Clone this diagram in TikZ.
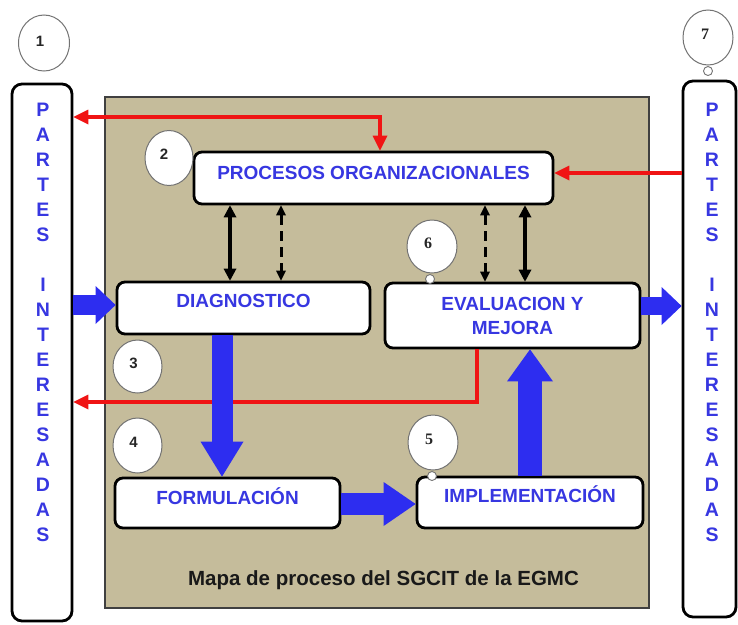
\documentclass[tikz,border=0pt]{standalone}
\usepackage{fontspec}
\setmainfont{Liberation Sans}
\newfontfamily\digserif{Liberation Serif}
\usetikzlibrary{arrows.meta,shapes.geometric,calc}
\definecolor{bgtan}{RGB}{197,188,155}
\definecolor{arblue}{RGB}{45,45,240}
\definecolor{txblue}{RGB}{55,55,225}
\definecolor{arred}{RGB}{240,20,20}
\newcommand\rtext[2]{\raisebox{#1}[0pt][0pt]{#2}}
\begin{document}
\begin{tikzpicture}[x=1pt,y=-1pt,
 pbox/.style={draw=black, line width=2.8pt, rounded corners=8pt, fill=white, inner sep=0pt,
   font=\fontsize{19}{24}\selectfont\bfseries, text=txblue, align=center},
 partbox/.style={draw=black, line width=2.8pt, rounded corners=10pt, fill=white, inner sep=0pt},
 partletter/.style={font=\fontsize{19.5}{22}\selectfont\bfseries, text=txblue, inner sep=0pt},
 numcirc/.style={ellipse, draw=black!55, line width=1pt, fill=white, minimum width=50pt, minimum height=55pt, inner sep=0pt},
 tinycirc/.style={circle, draw=black!55, line width=0.9pt, fill=white, minimum size=9pt, inner sep=0pt},
 digit/.style={font=\fontsize{15}{15}\selectfont\bfseries, text=black!85, inner sep=0pt},
 sdigit/.style={font=\fontsize{16}{16}\selectfont\digserif\bfseries, text=black!85, inner sep=0pt},
 solidarr/.style={draw=black, line width=3.6pt,
   {Triangle[length=12pt 0 0,width=13pt 0 0,line width=0pt 0 0]}-{Triangle[length=12pt 0 0,width=13pt 0 0,line width=0pt 0 0]}},
 dasharr/.style={draw=black, line width=3pt, dash pattern=on 10pt off 6pt,
   {Triangle[length=10pt 0 0,width=10pt 0 0,line width=0pt 0 0]}-{Triangle[length=10pt 0 0,width=10pt 0 0,line width=0pt 0 0]}},
 redline/.style={draw=arred, line width=3.5pt},
 bluearr/.style={draw=arblue, line width=#1},
 captionstyle/.style={font=\fontsize{20.5}{24}\selectfont\bfseries, text=black!90, inner sep=0pt}
]
\useasboundingbox (0,0) rectangle (738,624);

% background panel
\draw[fill=bgtan, draw=black!75, line width=1.5pt] (105,97) rectangle (649,608);

% stakeholder columns
\node[partbox, minimum width=60pt, minimum height=537pt] (lpart) at (42,352.5) {};
\node[partbox, minimum width=53pt, minimum height=536pt] (rpart) at (709.5,349) {};
\foreach \l/\yy [count=\i] in {P/110,A/135,R/160,T/185,E/210,S/235,I/285,N/310,T/335,E/360,R/385,E/410,S/435,A/460,D/485,A/510,S/535}{
  \node[partletter] (lp\i) at (43,\yy) {\l};
  \node[partletter] (rp\i) at (712,\yy) {\l};
}

% process boxes
\node[pbox, minimum width=359pt, minimum height=52pt] (proc) at (373.5,178) {\rtext{-1.8pt}{PROCESOS ORGANIZACIONALES}};
\node[pbox, minimum width=253pt, minimum height=52pt] (diag) at (243.5,308) {\rtext{0.2pt}{DIAGNOSTICO}};
\node[pbox, minimum width=255pt, minimum height=65pt] (eval) at (512.5,315.5) {EVALUACION Y\\MEJORA};
\node[pbox, minimum width=225pt, minimum height=50pt] (form) at (227.5,503) {\rtext{-1.8pt}{FORMULACIÓN}};
\node[pbox, minimum width=226pt, minimum height=51pt] (impl) at (530,502.5) {\rtext{-0.3pt}{IMPLEMENTACIÓN}};

% red feedback lines
\coordinate (rt) at (380,117);
\draw[redline, {Triangle[length=15pt 0 0,width=15pt 0 0,line width=0pt 0 0]}-{Triangle[length=15pt 0 0,width=15pt 0 0,line width=0pt 0 0]}]
  (rt -| lpart.east) -- (rt) -- (rt |- proc.north);
\coordinate (rr) at (0,173);
\draw[redline, -{Triangle[length=15pt 0 0,width=15pt 0 0,line width=0pt 0 0]}]
  (rr -| rpart.west) -- (rr -| proc.east);
\coordinate (rb) at (477,402);
\draw[redline, -{Triangle[length=15pt 0 0,width=15pt 0 0,line width=0pt 0 0]}]
  (rb |- eval.south) -- (rb) -- (rb -| lpart.east);

% black two-way arrows
\coordinate (k1) at (230,0);
\coordinate (k2) at (281,0);
\coordinate (k3) at (485,0);
\coordinate (k4) at (525,0);
\draw[solidarr] (k1 |- proc.south) -- (k1 |- diag.north);
\draw[dasharr] (k2 |- proc.south) -- (k2 |- diag.north);
\draw[dasharr] (k3 |- proc.south) -- (k3 |- eval.north);
\draw[solidarr] (k4 |- proc.south) -- (k4 |- eval.north);

% blue block arrows
\coordinate (b1) at (0,305);
\draw[bluearr=20pt, -{Triangle[length=20pt 0 0,width=38pt 0 0,line width=0pt 0 0]}]
  (b1 -| lpart.east) -- (b1 -| diag.west);
\coordinate (b2) at (222,0);
\draw[bluearr=21pt, -{Triangle[length=35pt 0 0,width=43pt 0 0,line width=0pt 0 0]}]
  (b2 |- diag.south) -- (b2 |- form.north);
\coordinate (b3) at (0,504);
\draw[bluearr=22pt, -{Triangle[length=32pt 0 0,width=44pt 0 0,line width=0pt 0 0]}]
  (b3 -| form.east) -- (b3 -| impl.west);
\coordinate (b4) at (530,0);
\draw[bluearr=24pt, -{Triangle[length=32pt 0 0,width=46pt 0 0,line width=0pt 0 0]}]
  (b4 |- impl.north) -- (b4 |- eval.south);
\coordinate (b5) at (0,306);
\draw[bluearr=18pt, -{Triangle[length=20pt 0 0,width=38pt 0 0,line width=0pt 0 0]}]
  (b5 -| eval.east) -- (b5 -| rpart.west);

% numbered circles
\node[numcirc, minimum width=51pt, minimum height=56pt] (c1) at (44,43) {};
\node[digit] (d1) at ([xshift=-4pt,yshift=2pt]c1.center) {1};
\node[numcirc, minimum width=48pt, minimum height=55pt] (c2) at (169,158) {};
\node[digit] (d2) at ([xshift=-5pt,yshift=4pt]c2.center) {2};
\node[numcirc, minimum width=49pt, minimum height=53pt] (c3) at (137.5,366.5) {};
\node[digit] (d3) at ([xshift=-4pt,yshift=3pt]c3.center) {3};
\node[numcirc, minimum width=49pt, minimum height=55pt] (c4) at (137.5,445.5) {};
\node[digit] (d4) at ([xshift=-4pt,yshift=3pt]c4.center) {4};
\node[numcirc, minimum width=50pt, minimum height=55pt] (c5) at (433,442.5) {};
\node[sdigit] (d5) at ([xshift=-4pt,yshift=3pt]c5.center) {5};
\node[tinycirc] (s5) at (432,476) {};
\node[numcirc, minimum width=50pt, minimum height=53pt] (c6) at (432,246.5) {};
\node[sdigit] (d6) at ([xshift=-4pt,yshift=3pt]c6.center) {6};
\node[tinycirc] (s6) at (430,279) {};
\node[numcirc, minimum width=50pt, minimum height=55pt] (c7) at (708,37.5) {};
\node[sdigit] (d7) at ([xshift=-3pt,yshift=3pt]c7.center) {7};
\node[tinycirc] (s7) at (708,71) {};

% caption
\node[captionstyle] (cap) at (383.5,580) {Mapa de proceso del SGCIT de la EGMC};
\end{tikzpicture}
\end{document}
